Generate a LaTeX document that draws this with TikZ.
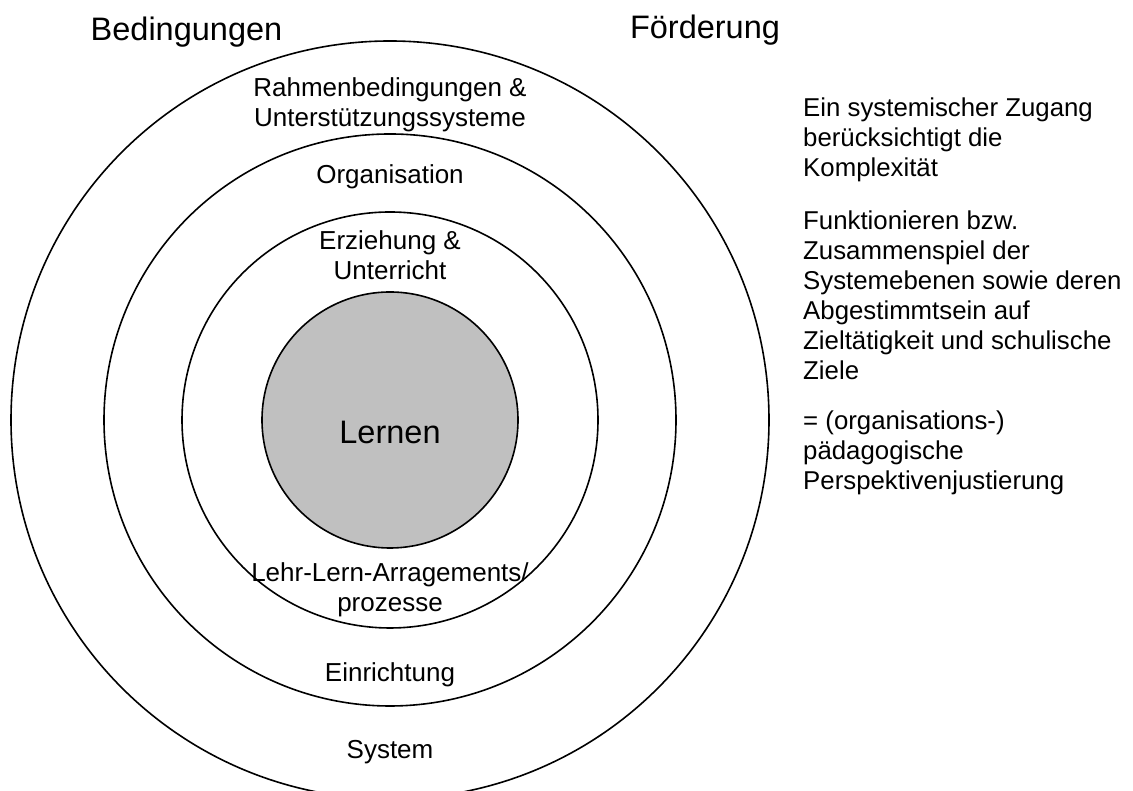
\documentclass[tikz,border=0pt]{standalone}
\usepackage{fontspec}
\setmainfont{Liberation Sans}
\usetikzlibrary{positioning}

\definecolor{lerngrau}{RGB}{192,192,192}

\tikzset{
  ring/.style={draw, line width=1.6pt, circle, minimum size=#1, inner sep=0pt},
  ringlabel/.style={font=\fontsize{26}{30}\selectfont, align=center, inner sep=0pt},
  heading/.style={font=\fontsize{32.5}{38}\selectfont, inner sep=0pt},
  note/.style={font=\fontsize{25.8}{30}\selectfont, align=left, inner sep=0pt, anchor=north west},
}

\begin{document}
\begin{tikzpicture}[x=1pt,y=1pt]
    \useasboundingbox (0,0) rectangle (1133,791);
    \clip (0,0) rectangle (1133,791);
    \coordinate (c) at (390,371);

    % Systemebenen
    \node[ring=758pt] (system) at (c) {};
    \node[ring=572pt] (einrichtung) at (c) {};
    \node[ring=416pt] (unterricht) at (c) {};
    \node[ring=256pt, fill=lerngrau] (lernkreis) at (c) {};
    \node[heading] (lernen) at (390,359) {Lernen};

    \node[ringlabel, anchor=north] (rahmen) at (390,714) {Rahmenbedingungen \&\\Unterstützungssysteme};
    \node[ringlabel, anchor=base] (organisation) at (390,607) {Organisation};
    \node[ringlabel, anchor=north] (erziehung) at (390,561) {Erziehung \&\\Unterricht};
    \node[ringlabel, anchor=north] (arrangements) at (390,229) {Lehr-Lern-Arragements/\\prozesse};
    \node[ringlabel, anchor=base] (einrichtunglabel) at (390,109) {Einrichtung};
    \node[ringlabel, anchor=base] (systemlabel) at (390,32) {System};

    \node[heading, anchor=base] (bedingungen) at (186.5,750) {Bedingungen};
    \node[heading, anchor=base] (foerderung) at (705,752) {Förderung};

    \node[note] (zugang) at (803,693) {Ein systemischer Zugang\\berücksichtigt die\\Komplexität};
    \node[note, below=28pt of zugang.south west, anchor=north west] (zusammenspiel)
        {Funktionieren bzw.\\Zusammenspiel der\\Systemebenen sowie deren\\Abgestimmtsein auf\\Zieltätigkeit und schulische\\Ziele};
    \node[note, below=31pt of zusammenspiel.south west, anchor=north west] (justierung)
        {= (organisations-)\\pädagogische\\Perspektivenjustierung};
\end{tikzpicture}
\end{document}
